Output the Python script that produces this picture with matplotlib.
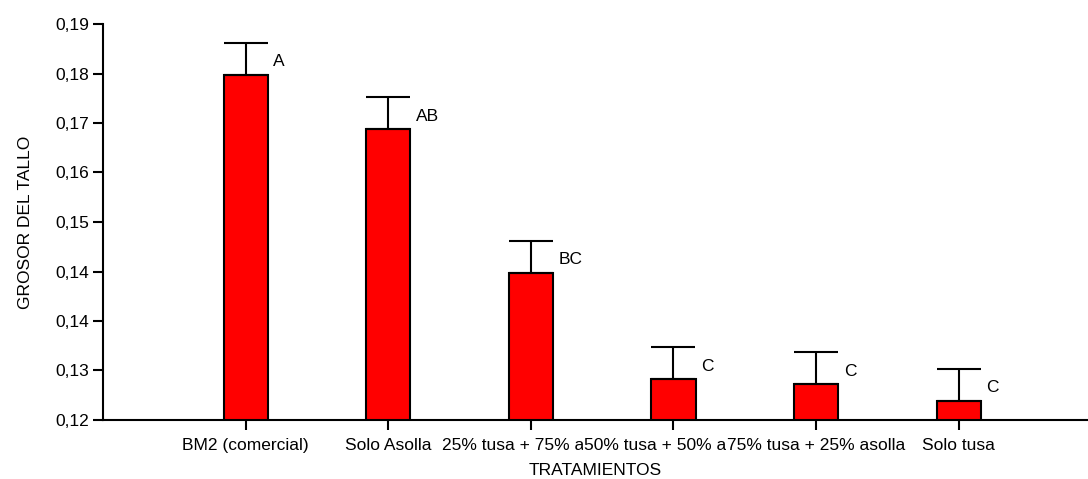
import matplotlib
matplotlib.use("Agg")
import matplotlib.pyplot as plt
import numpy as np

categories = ["BM2 (comercial)", "Solo Asolla", "25% tusa + 75% asolla",
              "50% tusa + 50% asolla", "75% tusa + 25% asolla", "Solo tusa"]
means = [0.1810, 0.1714, 0.1460, 0.1272, 0.1263, 0.1234]
errors = [0.0057, 0.00565, 0.00566, 0.0057, 0.0057, 0.0057]
letters = ["A", "AB", "BC", "C", "C", "C"]
ytick_values = [0.12, 0.12875, 0.1375, 0.14625, 0.155, 0.16375, 0.1725, 0.18125, 0.19]
ytick_labels = ["0,12", "0,13", "0,14", "0,14", "0,15", "0,16", "0,17", "0,18", "0,19"]

plt.rcParams['font.family'] = ['Liberation Sans', 'DejaVu Sans']

fig = plt.figure(figsize=(10.88, 4.79), dpi=100)
ax = fig.add_axes([103/1088, 59/479, 984/1088, 396/479])

x = np.arange(1, len(categories) + 1)
ax.bar(x, means, width=0.31, color='#ff0000', edgecolor='black', linewidth=1.5, zorder=2)
ax.errorbar(x, means, yerr=[np.zeros(len(errors)), errors], fmt='none',
            ecolor='black', elinewidth=1.5, capsize=16, capthick=1.5, zorder=3)
for xi, m, e, l in zip(x, means, errors, letters):
    ax.text(xi + 0.195, m + e - 0.00336, l, ha='left', va='center', fontsize=12.5)

ax.set_xlim(0, 6.9)
ax.set_ylim(0.12, 0.19)
ax.set_yticks(ytick_values)
ax.set_yticklabels(ytick_labels)
ax.set_xticks(x)
ax.set_xticklabels(categories)
for lab in ax.get_xticklabels():
    lab.set_bbox(dict(facecolor='white', edgecolor='none', pad=0.5))

ax.spines['top'].set_visible(False)
ax.spines['right'].set_visible(False)
for s in ['left', 'bottom']:
    ax.spines[s].set_linewidth(1.5)
ax.tick_params(axis='both', direction='out', length=7, width=1.5, labelsize=12.5)
ax.tick_params(axis='x', pad=6)
ax.tick_params(axis='y', pad=3)
ax.set_ylabel("GROSOR DEL TALLO", fontsize=12.5, labelpad=16)
ax.set_xlabel("TRATAMIENTOS", fontsize=12.5, labelpad=7)

fig.savefig("out.png", dpi=100)
